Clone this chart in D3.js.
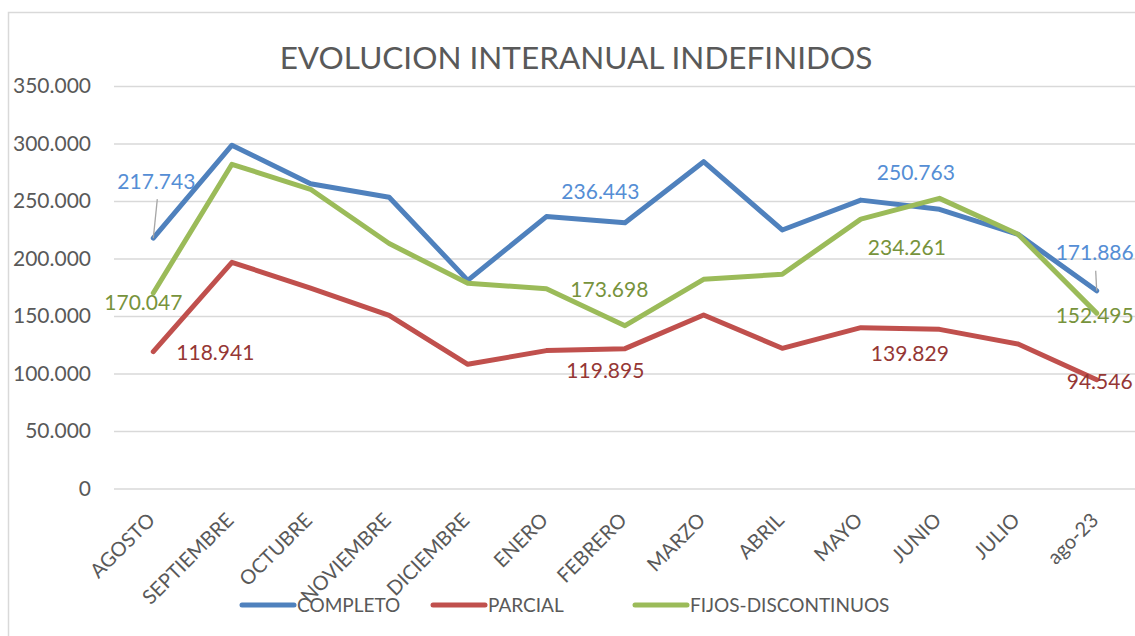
<!DOCTYPE html>
<html>
<head>
<meta charset="utf-8">
<script src="https://cdn.jsdelivr.net/npm/d3@7"></script>
<style>
  body { margin: 0; background: #fff; }
  svg { display: block; font-family: Lato, "Open Sans", sans-serif; }
</style>
</head>
<body>
<svg width="1135" height="636"></svg>
<script>
var months = ["AGOSTO", "SEPTIEMBRE", "OCTUBRE", "NOVIEMBRE", "DICIEMBRE", "ENERO",
  "FEBRERO", "MARZO", "ABRIL", "MAYO", "JUNIO", "JULIO", "ago-23"];
var completo = [217743, 298500, 265000, 253300, 181000, 236443, 231100, 284200, 224800, 250763, 242800, 221000, 171886];
var parcial = [118941, 196700, 174200, 150500, 108000, 119895, 121600, 150900, 121900, 139829, 138400, 125600, 94546];
var fijos = [170047, 281900, 260200, 213000, 178400, 173698, 141600, 181900, 186300, 234261, 252300, 221000, 152495];
var yTicks = [0, 50000, 100000, 150000, 200000, 250000, 300000, 350000];
var seriesNames = ["COMPLETO", "PARCIAL", "FIJOS-DISCONTINUOS"];

var series = [
  { name: seriesNames[0], values: completo, color: "#4F81BD", label: "#558ED5" },
  { name: seriesNames[1], values: parcial, color: "#C0504D", label: "#953735" },
  { name: seriesNames[2], values: fijos, color: "#9BBB59", label: "#77933C" }
];

// which points carry a data label, and where the label sits (pixels from the point)
var labelSpots = [
  { s: 0, i: 0, dx: 3, dy: -57, leader: true },
  { s: 2, i: 0, dx: -10, dy: 9 },
  { s: 1, i: 0, dx: 62, dy: 1 },
  { s: 0, i: 5, dx: 54, dy: -25 },
  { s: 2, i: 5, dx: 63, dy: 1 },
  { s: 1, i: 5, dx: 59, dy: 20 },
  { s: 0, i: 9, dx: 55, dy: -28 },
  { s: 2, i: 9, dx: 46, dy: 28 },
  { s: 1, i: 9, dx: 49, dy: 26 },
  { s: 0, i: 12, dx: -2, dy: -38, leader: true },
  { s: 2, i: 12, dx: -2, dy: 2 },
  { s: 1, i: 12, dx: 3, dy: 2 }
];

var svg = d3.select("svg");
var fmt = d3.formatLocale({ decimal: ",", thousands: ".", grouping: [3], currency: ["", "€"] }).format(",d");

var x = d3.scaleBand().domain(months).range([114, 1136]).padding(0);
var y = d3.scaleLinear().domain([0, 350000]).range([488.5, 86]);
var cx = function (i) { return x(months[i]) + x.bandwidth() / 2; };

// chart frame
svg.append("rect")
  .attr("x", 8.5).attr("y", 12.5)
  .attr("width", 1200).attr("height", 700)
  .style("fill", "none").style("stroke", "#D9D9D9").style("stroke-width", 1.5);

// title
svg.append("text")
  .attr("x", 576).attr("y", 69)
  .attr("text-anchor", "middle")
  .style("font-size", "31.5px")
  .style("fill", "#595959")
  .text("EVOLUCION INTERANUAL INDEFINIDOS");

// gridlines + y axis
var yAxis = svg.append("g")
  .attr("transform", "translate(114,0)")
  .call(d3.axisLeft(y).tickValues(yTicks).tickFormat(fmt).tickSize(-1022).tickPadding(23));
yAxis.select(".domain").remove();
yAxis.selectAll(".tick line").style("stroke", "#D9D9D9").style("stroke-width", 1.5);
yAxis.selectAll(".tick text")
  .style("font-family", "Lato, sans-serif")
  .style("font-size", "21px")
  .style("fill", "#595959");

// x axis labels
var xAxis = svg.append("g")
  .attr("transform", "translate(0,488.5)")
  .call(d3.axisBottom(x).tickSize(0));
xAxis.select(".domain").remove();
xAxis.selectAll(".tick text")
  .attr("text-anchor", "end")
  .attr("dy", null)
  .attr("y", 0)
  .attr("transform", "translate(3,33) rotate(-45)")
  .style("font-family", "Lato, sans-serif")
  .style("font-size", "20px")
  .style("fill", "#595959");

// lines
var line = d3.line()
  .x(function (d, i) { return cx(i); })
  .y(function (d) { return y(d); });

svg.append("g").selectAll("path")
  .data(series)
  .enter()
  .append("path")
  .attr("d", function (d) { return line(d.values); })
  .style("fill", "none")
  .style("stroke", function (d) { return d.color; })
  .style("stroke-width", 5)
  .style("stroke-linejoin", "round")
  .style("stroke-linecap", "round");

// leader lines
svg.append("g").selectAll("line")
  .data(labelSpots.filter(function (d) { return d.leader; }))
  .enter()
  .append("line")
  .attr("x1", function (d) { return cx(d.i); })
  .attr("y1", function (d) { return y(series[d.s].values[d.i]); })
  .attr("x2", function (d) { return cx(d.i) + d.dx + 1; })
  .attr("y2", function (d) { return y(series[d.s].values[d.i]) + d.dy + 18; })
  .style("stroke", "#A6A6A6")
  .style("stroke-width", 1.3);

// data labels
svg.append("g").selectAll("text")
  .data(labelSpots)
  .enter()
  .append("text")
  .attr("x", function (d) { return cx(d.i) + d.dx; })
  .attr("y", function (d) { return y(series[d.s].values[d.i]) + d.dy; })
  .attr("dy", "0.36em")
  .attr("text-anchor", "middle")
  .style("font-size", "21px")
  .style("fill", function (d) { return series[d.s].label; })
  .text(function (d) { return fmt(series[d.s].values[d.i]); });

// legend
var legendX = [242, 433, 635];
var legend = svg.append("g").selectAll("g")
  .data(series)
  .enter()
  .append("g")
  .attr("transform", function (d, i) { return "translate(" + legendX[i] + ",605)"; });
legend.append("line")
  .attr("x1", 0).attr("x2", 52)
  .style("stroke", function (d) { return d.color; })
  .style("stroke-width", 5)
  .style("stroke-linecap", "round");
legend.append("text")
  .attr("x", 55)
  .attr("dy", "0.36em")
  .style("font-size", "19px")
  .style("fill", "#595959")
  .text(function (d) { return d.name; });
</script>
</body>
</html>
